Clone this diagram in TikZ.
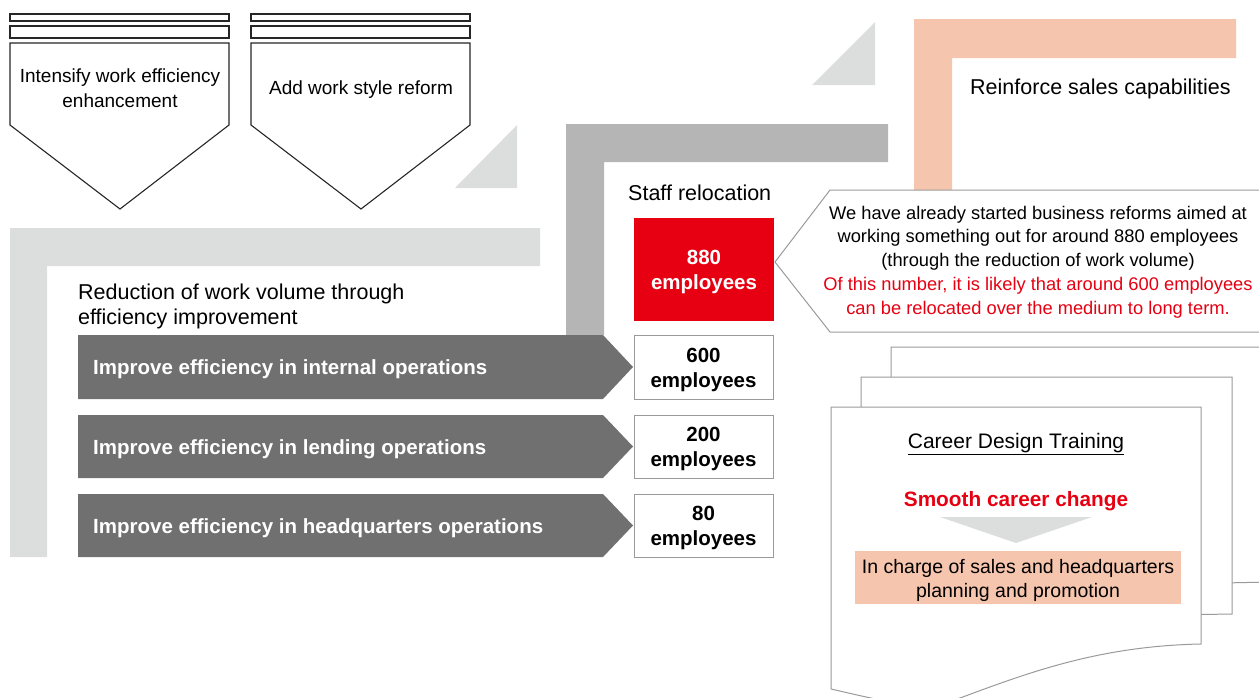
\documentclass[tikz,border=0pt]{standalone}
\usepackage{fontspec}
\setmainfont{Liberation Sans}
\usepackage{xcolor}
\definecolor{lightgrey}{HTML}{DCDEDD}
\definecolor{midgrey}{HTML}{B4B5B4}
\definecolor{darkgrey}{HTML}{707070}
\definecolor{linegrey}{HTML}{9A9A9A}
\definecolor{brandred}{HTML}{E60012}
\definecolor{salmon}{HTML}{F6C5AE}
\usetikzlibrary{positioning}
\tikzset{
	pennant/.style={draw=black!85, line width=1.1pt, fill=white},
	sheet/.style={draw=linegrey, line width=1pt, fill=white},
	textline/.style={inner sep=0pt, yshift=-2.5pt},
	rowtext/.style={textline, text=white, font=\bfseries\fontsize{20.5}{25}\selectfont, anchor=west},
	counttext/.style={textline, align=center, font=\bfseries\fontsize{20.5}{25}\selectfont},
	plaintext/.style={textline, font=\fontsize{21.5}{25}\selectfont},
	smalltext/.style={inner sep=0pt, font=\fontsize{19}{25}\selectfont, align=center}
}

\begin{document}
\begin{tikzpicture}[x=1pt, y=-1pt]
	\useasboundingbox (0,0) rectangle (1259,697);
	\clip (0,0) rectangle (1259,697);
	
	% grey triangles
	\fill[lightgrey] (455,188) -- (517,125) -- (517,188) -- cycle;
	\fill[lightgrey] (812,85) -- (875,22) -- (875,85) -- cycle;
	
	% left pennant
	\filldraw[pennant] (10,14) rectangle (229,21);
	\filldraw[pennant] (10,26) rectangle (229,38);
	\filldraw[pennant] (10,43) -- (229,43) -- (229,125) -- (120,209) -- (10,125) -- cycle;
	\node[smalltext] (intensify) at (120,88) {Intensify work efficiency\\enhancement};
	
	% right pennant
	\filldraw[pennant] (251,14) rectangle (470,21);
	\filldraw[pennant] (251,26) rectangle (470,38);
	\filldraw[pennant] (251,43) -- (470,43) -- (470,125) -- (361,209) -- (251,125) -- cycle;
	\node[smalltext, yshift=-2pt] (workstyle) at (361,88) {Add work style reform};
	
	% frames
	\fill[lightgrey] (10,228) -- (540,228) -- (540,266) -- (47,266) -- (47,557) -- (10,557) -- cycle;
	\fill[midgrey] (566,124) -- (888,124) -- (888,162) -- (604,162) -- (604,335) -- (566,335) -- cycle;
	\fill[salmon] (914,19) -- (1236,19) -- (1236,58) -- (952,58) -- (952,190) -- (914,190) -- cycle;
	
	% headings
	\node[plaintext, anchor=west, align=left] (reduction) at (78,303.5) {Reduction of work volume through\\efficiency improvement};
	\node[plaintext, anchor=west] (staff) at (628,190) {Staff relocation};
	\node[plaintext, anchor=west] (sales) at (970,86) {Reinforce sales capabilities};
	
	% relocation
	\fill[brandred] (634,218) rectangle (774,321);
	\node[counttext, text=white] (reloc) at (704,269.5) {880\\employees};
	
	% callout
	\filldraw[sheet] (830,190) -- (1270,190) -- (1270,332) -- (830,332) -- (775,262) -- cycle;
	\node[textline, align=center, font=\fontsize{18.3}{23.75}\selectfont] (note) at (1038,259.5) {We have already started business reforms aimed at\\working something out for around 880 employees\\(through the reduction of work volume)\\\textcolor{brandred}{Of this number, it is likely that around 600 employees}\\\textcolor{brandred}{can be relocated over the medium to long term.}};
	
	% stacked sheets
	\filldraw[sheet] (891,347) -- (1270,347) -- (1270,582) -- (891,590) -- cycle;
	\filldraw[sheet] (861,377) -- (1232,377) -- (1232,614) -- (861,620) -- cycle;
	\filldraw[sheet] (831,407) -- (1201,407) -- (1201,644) .. controls (1100,646) and (1030,672) .. (960,698) .. controls (920,712) and (880,700) .. (831,689) -- cycle;
	
	\node[plaintext, font=\fontsize{21}{25}\selectfont] (career) at (1016,442) {\underline{Career Design Training}};
	\node[textline, text=brandred, font=\bfseries\fontsize{20.8}{25}\selectfont] (smooth) at (1016,499) {Smooth career change};
	\fill[lightgrey] (940,517) -- (1092,517) -- (1016,543) -- cycle;
	\fill[salmon] (855,551) rectangle (1181,604);
	\node[textline, align=center, font=\fontsize{19.5}{24}\selectfont] (charge) at (1018,577.5) {In charge of sales and headquarters\\planning and promotion};
	
	% internal operations
	\fill[darkgrey] (78,335) -- (603,335) -- (633,367) -- (603,399) -- (78,399) -- cycle;
	\node[rowtext] (internal) at (93,367) {Improve efficiency in internal operations};
	\filldraw[sheet] (634,335) rectangle (773,399);
	\node[counttext] (cnt600) at (703.5,367) {600\\employees};
	
	% lending operations
	\fill[darkgrey] (78,415) -- (603,415) -- (633,446.5) -- (603,478) -- (78,478) -- cycle;
	\node[rowtext] (lending) at (93,446.5) {Improve efficiency in lending operations};
	\filldraw[sheet] (634,415) rectangle (773,478);
	\node[counttext] (cnt200) at (703.5,446.5) {200\\employees};
	
	% headquarters operations
	\fill[darkgrey] (78,494) -- (603,494) -- (633,525.5) -- (603,557) -- (78,557) -- cycle;
	\node[rowtext] (headquarters) at (93,525.5) {Improve efficiency in headquarters operations};
	\filldraw[sheet] (634,494) rectangle (773,557);
	\node[counttext] (cnt80) at (703.5,525.5) {80\\employees};
\end{tikzpicture}
\end{document}
